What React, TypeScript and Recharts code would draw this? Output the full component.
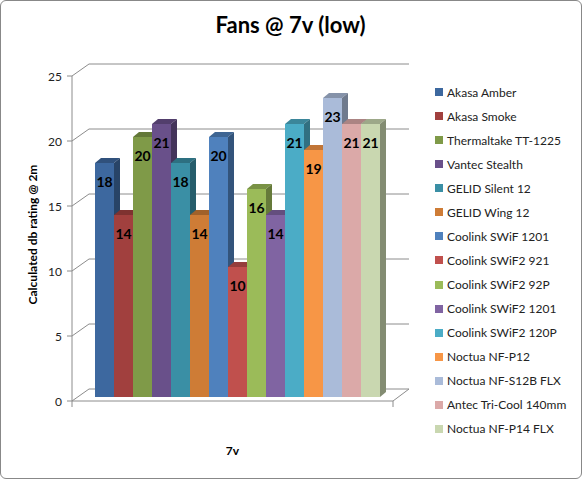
import React from 'react';
import { BarChart, Bar, XAxis, YAxis, CartesianGrid } from 'recharts';

// ---------- data ----------
const categories = ['7v'];
const seriesNames = [
  'Akasa Amber',
  'Akasa Smoke',
  'Thermaltake TT-1225',
  'Vantec Stealth',
  'GELID Silent 12',
  'GELID Wing 12',
  'Coolink SWiF 1201',
  'Coolink SWiF2 921',
  'Coolink SWiF2 92P',
  'Coolink SWiF2 1201',
  'Coolink SWiF2 120P',
  'Noctua NF-P12',
  'Noctua NF-S12B FLX',
  'Antec Tri-Cool 140mm',
  'Noctua NF-P14 FLX',
];
const seriesValues = [18, 14, 20, 21, 18, 14, 20, 10, 16, 14, 21, 19, 23, 21, 21];
const seriesColors = [
  '#3D689F', '#A1403E', '#7F9A48', '#69508A', '#3A8FA5', '#CE7C36',
  '#4F81BD', '#C0504D', '#9BBB59', '#8064A2', '#4BACC6', '#F79646',
  '#AABBD9', '#DBA9A8', '#C9D7B0',
];
const yTicks = [0, 5, 10, 15, 20, 25];
const titleText = 'Fans @ 7v (low)';
const yAxisTitle = 'Calculated db rating @ 2m';

const data = categories.map((c) => {
  const row: Record<string, any> = { name: c };
  seriesNames.forEach((n, i) => {
    row['s' + i] = seriesValues[i];
  });
  return row;
});

// ---------- layout ----------
const W = 583;
const H = 480;
const FONT = 'Lato, "Open Sans", "DejaVu Sans", sans-serif';
const PLOT_TOP = 72;
const PLOT_LEFT = 95;
const PLOT_RIGHT = 380;
const XAXIS_H = 30;
const PLOT_BOTTOM = 397;
const AXIS_X = 72; // front-left axis line
const FRONT_DY = 4; // front axis is drawn a little below bar base
const WALL_X = 89; // back wall left
const WALL_RIGHT = 409;
const WALL_DY = 8; // back wall sits higher than bar base
const FLOOR_RIGHT = 393;
const BOX_DX = 6;
const BOX_DY = 5;
const GRID = '#8C8C8C';

function shade(hex: string, f: number) {
  const n = parseInt(hex.slice(1), 16);
  const r = Math.round(((n >> 16) & 255) * f);
  const g = Math.round(((n >> 8) & 255) * f);
  const b = Math.round((n & 255) * f);
  return `rgb(${r},${g},${b})`;
}

const Box3D = (props: any) => {
  const { x, y, width, height, fill } = props;
  if (width == null || height == null) return null;
  const x2 = x + width;
  const yb = y + height;
  return (
    <g>
      <polygon
        points={`${x},${y} ${x + BOX_DX},${y - BOX_DY} ${x2 + BOX_DX},${y - BOX_DY} ${x2},${y}`}
        fill={shade(fill, 0.78)}
      />
      <polygon
        points={`${x2},${y} ${x2 + BOX_DX},${y - BOX_DY} ${x2 + BOX_DX},${yb - BOX_DY} ${x2},${yb}`}
        fill={shade(fill, 0.65)}
      />
      <rect x={x} y={y} width={width} height={height} fill={fill} />
    </g>
  );
};

const BarLabel = (props: any) => {
  const { x, y, width, value } = props;
  return (
    <text
      x={x + width / 2}
      y={y + 18}
      textAnchor="middle"
      dominantBaseline="central"
      fontFamily={FONT}
      fontWeight={700}
      fontSize={14}
      fill="#000"
    >
      {value}
    </text>
  );
};

const YTick = (props: any) => {
  const { y, payload, index } = props;
  const fy = y + FRONT_DY;
  return (
    <g>
      <text
        x={62}
        y={fy}
        textAnchor="end"
        dominantBaseline="central"
        fontFamily={FONT}
        fontSize={12}
        fill="#222"
      >
        {payload.value}
      </text>
      <line x1={67} y1={fy} x2={AXIS_X} y2={fy} stroke={GRID} strokeWidth={1} />
      {index === 0 && (
        <line
          x1={AXIS_X}
          y1={PLOT_TOP + FRONT_DY}
          x2={AXIS_X}
          y2={PLOT_BOTTOM + FRONT_DY + 6}
          stroke={GRID}
          strokeWidth={1}
        />
      )}
    </g>
  );
};

const XTick = (props: any) => {
  const { x, payload } = props;
  const fy = PLOT_BOTTOM + FRONT_DY;
  return (
    <g>
      <line x1={AXIS_X} y1={fy} x2={FLOOR_RIGHT} y2={fy} stroke={GRID} strokeWidth={1} />
      <line
        x1={FLOOR_RIGHT}
        y1={fy}
        x2={WALL_RIGHT}
        y2={PLOT_BOTTOM - WALL_DY}
        stroke={GRID}
        strokeWidth={1}
      />
      <line x1={FLOOR_RIGHT} y1={fy} x2={FLOOR_RIGHT} y2={fy + 6} stroke={GRID} strokeWidth={1} />
      <text
        x={x - 5}
        y={450}
        textAnchor="middle"
        dominantBaseline="central"
        fontFamily={FONT}
        fontWeight={700}
        fontSize={12}
        fill="#000"
      >
        {payload.value}
      </text>
    </g>
  );
};

const GridLine = (props: any) => {
  const { y1 } = props;
  return (
    <g>
      <line
        x1={AXIS_X}
        y1={y1 + FRONT_DY}
        x2={WALL_X}
        y2={y1 - WALL_DY}
        stroke={GRID}
        strokeWidth={1}
      />
      <line
        x1={WALL_X}
        y1={y1 - WALL_DY}
        x2={WALL_RIGHT}
        y2={y1 - WALL_DY}
        stroke={GRID}
        strokeWidth={1}
      />
    </g>
  );
};

const YTitle = (props: any) => {
  const vb = props.viewBox || {};
  const cy = vb.y + vb.height / 2;
  return (
    <text
      x={32}
      y={cy}
      transform={`rotate(-90, 32, ${cy})`}
      textAnchor="middle"
      dominantBaseline="central"
      fontFamily={FONT}
      fontWeight={700}
      fontSize={12}
      fill="#000"
    >
      {yAxisTitle}
    </text>
  );
};

export default function App() {
  return (
    <div style={{ position: 'relative', width: W, height: H, background: '#fff' }}>
      <style>{'body{margin:0}'}</style>
      <BarChart
        width={W}
        height={H}
        data={data}
        margin={{ top: PLOT_TOP, right: W - PLOT_RIGHT, bottom: H - PLOT_BOTTOM - XAXIS_H, left: PLOT_LEFT - 60 }}
        barCategoryGap={0}
        barGap={0}
      >
        <CartesianGrid horizontal={GridLine as any} vertical={false} />
        <XAxis
          dataKey="name"
          height={XAXIS_H}
          axisLine={false}
          tickLine={false}
          tick={XTick}
          interval={0}
        />
        <YAxis
          width={60}
          domain={[0, 25]}
          ticks={yTicks}
          axisLine={false}
          tickLine={false}
          tick={YTick}
          label={<YTitle />}
        />
        {seriesNames.map((n, i) => (
          <Bar
            key={n}
            dataKey={'s' + i}
            name={n}
            fill={seriesColors[i]}
            shape={Box3D}
            label={BarLabel}
            isAnimationActive={false}
          />
        ))}
      </BarChart>
      <div
        style={{
          position: 'absolute',
          left: 0,
          top: 10,
          width: W - 2,
          textAlign: 'center',
          fontFamily: FONT,
          fontWeight: 700,
          fontSize: 22,
          lineHeight: '30px',
          color: '#000',
        }}
      >
        {titleText}
      </div>
      <div style={{ position: 'absolute', left: 435, top: 80, fontFamily: FONT, fontSize: 12, color: '#222' }}>
        {seriesNames.map((n, i) => (
          <div key={n} style={{ height: 24.07, display: 'flex', alignItems: 'center', whiteSpace: 'nowrap' }}>
            <span style={{ display: 'inline-block', width: 8, height: 8, background: seriesColors[i], marginRight: 4 }} />
            <span>{n}</span>
          </div>
        ))}
      </div>
      <div
        style={{
          position: 'absolute',
          left: 0,
          top: 0,
          width: W - 1,
          height: H - 1,
          boxSizing: 'border-box',
          border: '1px solid #888',
          borderRadius: 6,
          pointerEvents: 'none',
        }}
      />
    </div>
  );
}
